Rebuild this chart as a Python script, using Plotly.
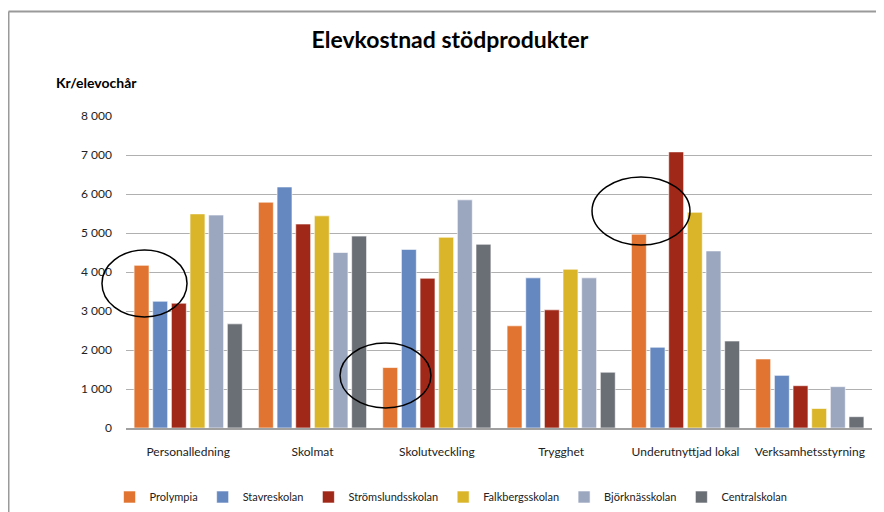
import plotly.graph_objects as go

categories = ['Personalledning', 'Skolmat', 'Skolutveckling', 'Trygghet',
              'Underutnyttjad lokal', 'Verksamhetsstyrning']

prolympia = [4170, 5790, 1550, 2620, 4970, 1770]
stavreskolan = [3250, 6180, 4580, 3850, 2070, 1350]
stromslundsskolan = [3200, 5230, 3840, 3030, 7080, 1085]
falkbergsskolan = [5490, 5440, 4890, 4070, 5530, 500]
bjorknasskolan = [5460, 4500, 5850, 3850, 4540, 1060]
centralskolan = [2670, 4920, 4710, 1430, 2230, 290]

series = [
    ('Prolympia', prolympia, '#E07430'),
    ('Stavreskolan', stavreskolan, '#6688C0'),
    ('Strömslundsskolan', stromslundsskolan, '#A02818'),
    ('Falkbergsskolan', falkbergsskolan, '#DAB52A'),
    ('Björknässkolan', bjorknasskolan, '#9BA6BF'),
    ('Centralskolan', centralskolan, '#6A6E75'),
]

fig = go.Figure()
for name, vals, col in series:
    fig.add_trace(go.Bar(x=categories, y=vals, name=name,
                         marker=dict(color=col, line=dict(color='white', width=0.6))))

# hand-drawn circles (paper coords so they are not clipped at the plot edge)
circles = [(-0.0322, 0.3558, 0.0818, 0.5705),
           (0.2869, 0.0641, 0.4088, 0.2724),
           (0.6247, 0.5865, 0.7560, 0.8045)]
for x0, y0, x1, y1 in circles:
    fig.add_shape(type='circle', xref='paper', yref='paper', x0=x0, y0=y0, x1=x1, y1=y1,
                  line=dict(color='black', width=1.5))

# chart border (top and left visible)
fig.add_shape(type='line', xref='paper', yref='paper', x0=-0.1575, y0=1.335, x1=1.2, y1=1.335,
              line=dict(color='#9a9a9a', width=2))
fig.add_shape(type='line', xref='paper', yref='paper', x0=-0.1575, y0=1.335, x1=-0.1575, y1=-0.5,
              line=dict(color='#9a9a9a', width=2))

fig.update_layout(
    width=884, height=512,
    margin=dict(l=118, r=20, t=108, b=92),
    paper_bgcolor='white', plot_bgcolor='white',
    font=dict(family='Lato', size=12, color='#222'),
    separators='. ',
    title=dict(text='<b>Elevkostnad stödprodukter</b>', x=0.5, xanchor='center',
               y=1 - 32 / 512, yanchor='middle', font=dict(size=23, color='black')),
    barmode='group', bargap=0.1, bargroupgap=0.2,
    legend=dict(orientation='h', x=0.4357, xanchor='center',
                yref='container', y=1 - 489 / 512, yanchor='middle',
                font=dict(size=11, color='#222'), itemwidth=30),
    annotations=[dict(text='<b>Kr/elevochår</b>', xref='paper', yref='paper',
                      x=(46 - 118) / 746, y=(420 - 75) / 312, xanchor='left', yanchor='middle',
                      showarrow=False, font=dict(size=14, color='black'))],
)
fig.update_yaxes(range=[0, 8000], dtick=1000, tickformat=',d', showgrid=True,
                 gridcolor='#b0b0b0', gridwidth=1, zeroline=False, ticks='', showline=False,
                 ticklabelstandoff=13)
fig.update_xaxes(range=[-0.5, 5.5], showline=True, linecolor='#a0a0a0', linewidth=1.5,
                 ticks='', ticklabelstandoff=12)

fig.write_html('out.html')
